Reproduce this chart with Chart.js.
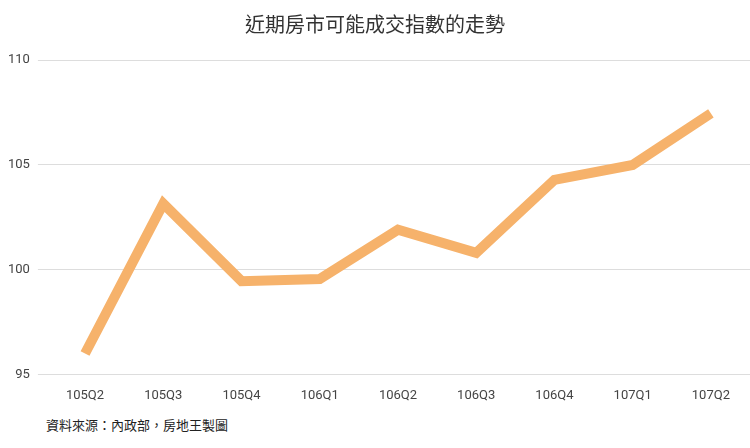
<!DOCTYPE html>
<html><head><meta charset="utf-8">
<script src="https://cdn.jsdelivr.net/npm/chart.js@4"></script>
<style>body{margin:0;background:#fff;}#w{position:relative;width:750px;height:448px;}
#src{position:absolute;left:46px;top:415px;font:13px "Noto Sans CJK TC";color:#222;}</style>
</head><body><div id="w"><canvas id="c" width="750" height="410"></canvas><div id="src">資料來源：內政部，房地王製圖</div></div>
<script>
const categories=["105Q2","105Q3","105Q4","106Q1","106Q2","106Q3","106Q4","107Q1","107Q2"];
const values=[96.0,103.15,99.45,99.55,101.9,100.8,104.28,104.99,107.45];
const yTicks=[95,100,105,110];
new Chart(document.getElementById('c'),{type:'line',
data:{labels:categories,datasets:[{data:values,borderColor:'#F6B26B',borderWidth:10,pointRadius:0,tension:0,borderJoinStyle:'miter',borderCapStyle:'butt'}]},
options:{responsive:false,animation:false,layout:{padding:{left:0,right:0,top:0,bottom:0}},
plugins:{legend:{display:false},title:{display:true,text:'近期房市可能成交指數的走勢',color:'#333',font:{family:'Noto Sans CJK TC',size:20,weight:'normal'},padding:{top:12,bottom:24}}},
scales:{x:{offset:true,grid:{display:false},border:{display:false},ticks:{color:'#444',font:{family:'Roboto',size:13},padding:6}},
y:{min:95,max:110,afterBuildTicks:a=>{a.ticks=yTicks.map(v=>({value:v}));},grid:{color:'#ddd'},border:{display:false},ticks:{color:'#444',font:{family:'Roboto',size:13},padding:8}}}}});
</script></body></html>
